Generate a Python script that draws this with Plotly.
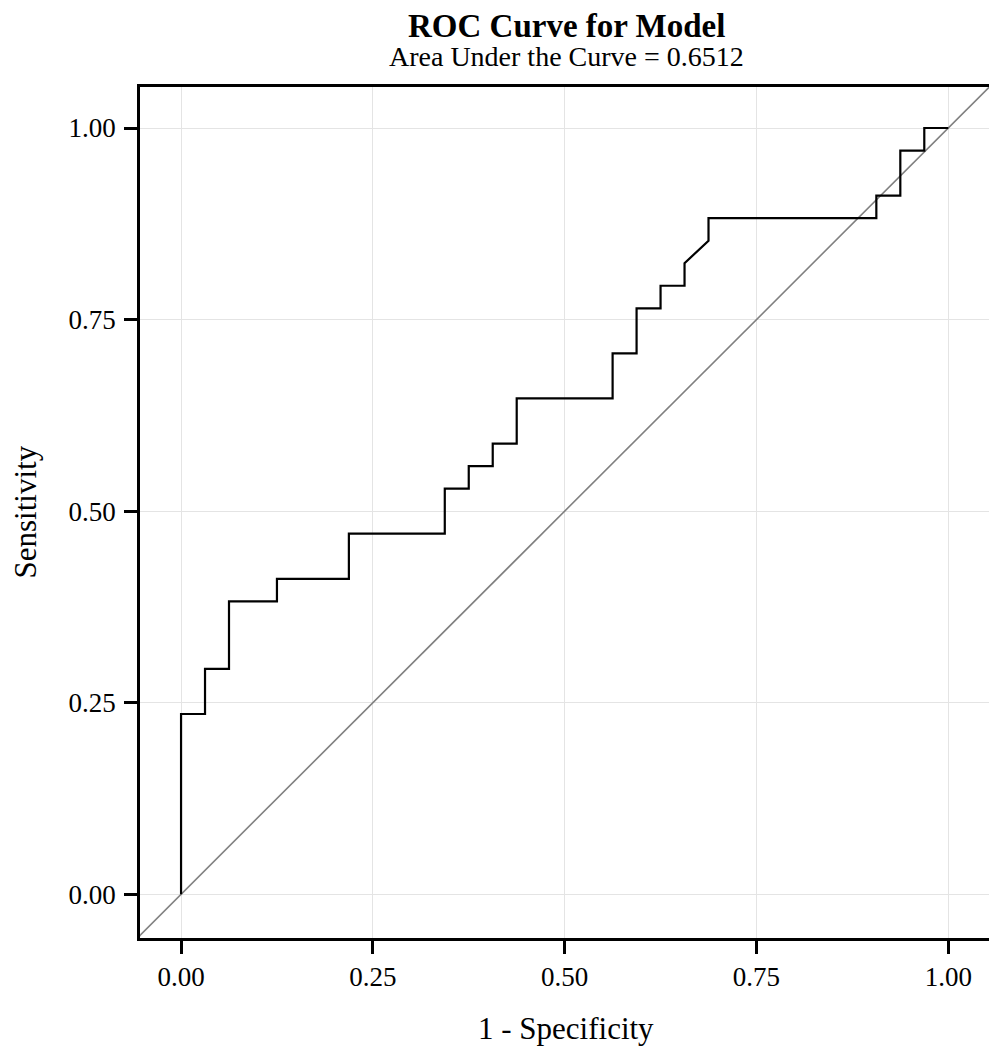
import plotly.graph_objects as go

# ROC curve points (1 - specificity, sensitivity)
fpr = [0, 0, 1/32, 1/32, 2/32, 2/32, 4/32, 4/32, 7/32, 7/32, 11/32, 11/32,
       12/32, 12/32, 13/32, 13/32, 14/32, 14/32, 18/32, 18/32, 19/32, 19/32,
       20/32, 20/32, 21/32, 21/32, 22/32, 22/32, 29/32, 29/32, 30/32, 30/32,
       31/32, 31/32, 1]
tpr = [0, 8/34, 8/34, 10/34, 10/34, 13/34, 13/34, 14/34, 14/34, 16/34, 16/34, 18/34,
       18/34, 19/34, 19/34, 20/34, 20/34, 22/34, 22/34, 24/34, 24/34, 26/34,
       26/34, 27/34, 27/34, 28/34, 29/34, 30/34, 30/34, 31/34, 31/34, 33/34,
       33/34, 1, 1]

ref_line = [-0.1, 1.1]
tick_vals = [0, 0.25, 0.5, 0.75, 1.0]
tick_text = ['0.00', '0.25', '0.50', '0.75', '1.00']

font_name = 'Liberation Serif'

fig = go.Figure()

fig.add_trace(go.Scatter(x=ref_line, y=ref_line, mode='lines',
                         line=dict(color='#808080', width=1.6), showlegend=False))
fig.add_trace(go.Scatter(x=fpr, y=tpr, mode='lines',
                         line=dict(color='black', width=2.2), showlegend=False))

# page body has an 8px margin, so the figure is sized to end at the window edge
fig.update_layout(
    width=989, height=1042,
    margin=dict(l=132, r=5, t=79, b=112),
    paper_bgcolor='white', plot_bgcolor='white',
    font=dict(family=font_name, color='black'),
    annotations=[
        dict(text='<b>ROC Curve for Model</b>', xref='paper', yref='paper', x=0.5, y=1.0,
             yshift=61, showarrow=False, yanchor='middle', font=dict(size=33)),
        dict(text='Area Under the Curve = 0.6512', xref='paper', yref='paper',
             x=0.5, y=1.0, yshift=31, showarrow=False, yanchor='middle', font=dict(size=28)),
        dict(text='1 - Specificity', xref='paper', yref='paper', x=0.5, y=0.0,
             yshift=-90, showarrow=False, yanchor='middle', font=dict(size=31)),
        dict(text='Sensitivity', xref='paper', yref='paper', x=0.0, y=0.5,
             xshift=-115, showarrow=False, xanchor='center', yanchor='middle',
             textangle=-90, font=dict(size=31)),
    ],
)

axis_style = dict(
    showline=True, linecolor='black', linewidth=2.5, mirror=True,
    ticks='outside', ticklen=13, tickwidth=2.5, tickcolor='black',
    showgrid=True, gridcolor='#e4e4e4', gridwidth=1,
    zeroline=False, tickvals=tick_vals, ticktext=tick_text,
    tickfont=dict(size=27, family=font_name), automargin=False,
)

fig.update_xaxes(range=[-0.0535, 1.057], **axis_style)
fig.update_yaxes(range=[-0.057, 1.0535], ticklabelstandoff=3, **axis_style)

fig.write_html("out.html")
